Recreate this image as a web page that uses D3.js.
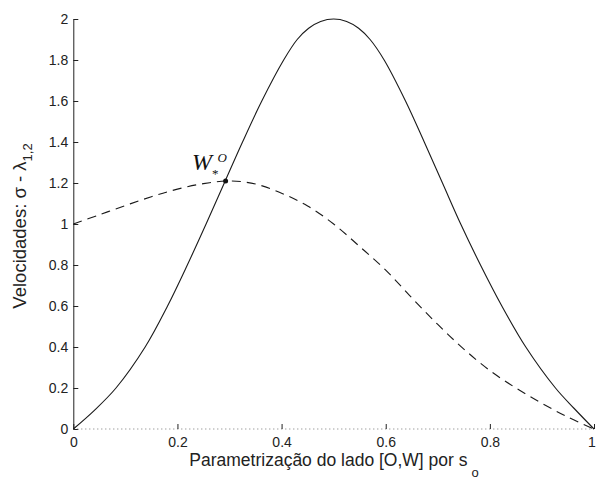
<!DOCTYPE html>
<html>
<head>
<meta charset="utf-8">
<script src="https://cdn.jsdelivr.net/npm/d3@7"></script>
<style>
  body { margin: 0; background: #fff; }
  svg { display: block; }
</style>
</head>
<body>
<div id="chart"></div>
<script>
// values (s_o, velocity)
const sigmaS = [0, 0.04, 0.082, 0.138, 0.181, 0.219, 0.255, 0.290, 0.325, 0.362, 0.404, 0.43, 0.452, 0.475, 0.5,
  0.525, 0.548, 0.570, 0.597, 0.638, 0.674, 0.709, 0.744, 0.782, 0.823, 0.869, 0.926, 0.962, 1];
const sigmaV = [0, 0.09, 0.2, 0.4, 0.6, 0.8, 1.0, 1.2, 1.4, 1.6, 1.8, 1.9, 1.955, 1.988, 2.0,
  1.988, 1.955, 1.9, 1.8, 1.6, 1.4, 1.2, 1.0, 0.8, 0.6, 0.4, 0.2, 0.1, 0];

const lambdaS = [0, 0.05, 0.1, 0.15, 0.2, 0.25, 0.3, 0.35, 0.4, 0.45, 0.5, 0.55, 0.6, 0.65, 0.7, 0.75, 0.8, 0.85, 0.9, 0.95, 1];
const lambdaV = [1.0, 1.045, 1.09, 1.133, 1.17, 1.197, 1.21, 1.195, 1.15, 1.088, 1.0, 0.89, 0.775, 0.64, 0.51, 0.39, 0.285, 0.2, 0.125, 0.058, 0];

const pointW = [0.2925, 1.21];

const xTicks = [0, 0.2, 0.4, 0.6, 0.8, 1];
const xTickLabels = ['0', '0.2', '0.4', '0.6', '0.8', '1'];
const yTicks = [0, 0.2, 0.4, 0.6, 0.8, 1, 1.2, 1.4, 1.6, 1.8, 2];
const yTickLabels = ['0', '0.2', '0.4', '0.6', '0.8', '1', '1.2', '1.4', '1.6', '1.8', '2'];

const width = 596, height = 480;
const font = "'Liberation Sans', Arial, sans-serif";

const svg = d3.select("#chart").append("svg")
  .attr("width", width)
  .attr("height", height);

const x = d3.scaleLinear().domain([0, 1]).range([73.3, 594]);
const y = d3.scaleLinear().domain([0, 2]).range([429, 19]);

// y axis, ticks pointing inward
const yAxis = svg.append("g")
  .attr("transform", `translate(${x(0)},0)`)
  .call(d3.axisLeft(y)
    .tickValues(yTicks)
    .tickFormat((d, i) => yTickLabels[i])
    .tickSizeInner(-5)
    .tickSizeOuter(0)
    .tickPadding(5));
yAxis.selectAll("path, line").attr("stroke", "#222");
yAxis.selectAll("text").style("font-family", font).style("font-size", "14px").attr("fill", "#222");

// x axis: dotted baseline with small up ticks
svg.append("line")
  .attr("x1", x(0)).attr("x2", x(1))
  .attr("y1", y(0)).attr("y2", y(0))
  .attr("stroke", "#777")
  .attr("stroke-dasharray", "1,3");

const xAxis = svg.append("g")
  .attr("transform", `translate(0,${y(0)})`)
  .call(d3.axisBottom(x)
    .tickValues(xTicks)
    .tickFormat((d, i) => xTickLabels[i])
    .tickSizeInner(-5)
    .tickSizeOuter(0)
    .tickPadding(8));
xAxis.select(".domain").remove();
xAxis.selectAll("line").attr("stroke", "#222");
xAxis.selectAll("text").style("font-family", font).style("font-size", "14px").attr("fill", "#222");
// last label sits on the right edge
xAxis.selectAll(".tick:last-of-type text").attr("text-anchor", "end").attr("dx", "0.1em");

const line = d3.line()
  .x(d => x(d[0]))
  .y(d => y(d[1]))
  .curve(d3.curveCatmullRom.alpha(0.5));

svg.append("path")
  .datum(sigmaS.map((s, i) => [s, sigmaV[i]]))
  .attr("fill", "none")
  .attr("stroke", "#1a1a1a")
  .attr("stroke-width", 1.1)
  .attr("d", line);

svg.append("path")
  .datum(lambdaS.map((s, i) => [s, lambdaV[i]]))
  .attr("fill", "none")
  .attr("stroke", "#1a1a1a")
  .attr("stroke-width", 1.1)
  .attr("stroke-dasharray", "9,6")
  .attr("d", line);

svg.append("circle")
  .attr("cx", x(pointW[0]))
  .attr("cy", y(pointW[1]))
  .attr("r", 2.5)
  .attr("fill", "#111");

// annotation W_*^O
const ann = svg.append("text")
  .attr("x", 192)
  .attr("y", 170)
  .style("font-family", "'Liberation Serif', 'Times New Roman', serif")
  .style("font-style", "italic")
  .style("font-size", "24px")
  .attr("fill", "#111");
ann.append("tspan").text("W");
ann.append("tspan").attr("dy", 8).attr("dx", 0).style("font-size", "13px").style("font-style", "normal").text("*");
ann.append("tspan").attr("dy", -16).attr("dx", -1).style("font-size", "13px").text("O");

// axis labels
const xl = svg.append("text")
  .attr("x", 334)
  .attr("y", 466)
  .attr("text-anchor", "middle")
  .style("font-family", font)
  .style("font-size", "17.5px")
  .attr("fill", "#222");
xl.append("tspan").text("Parametrização do lado [O,W] por s");
xl.append("tspan").attr("dx", 4).attr("dy", 11).style("font-size", "13px").text("o");

const yl = svg.append("text")
  .attr("transform", `translate(26,226) rotate(-90)`)
  .attr("text-anchor", "middle")
  .style("font-family", font)
  .style("font-size", "18.5px")
  .attr("fill", "#222");
yl.append("tspan").text("Velocidades: σ - λ");
yl.append("tspan").attr("dy", 6).style("font-size", "13px").text("1,2");
</script>
</body>
</html>
